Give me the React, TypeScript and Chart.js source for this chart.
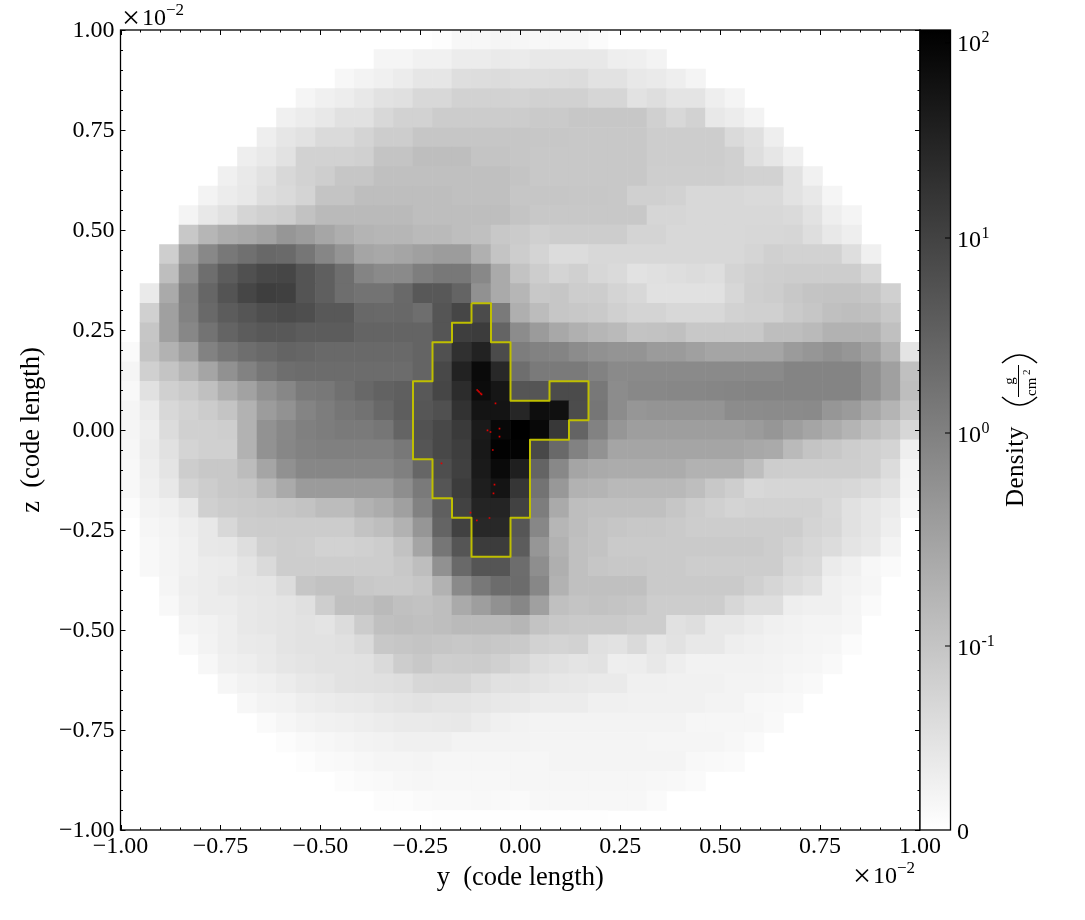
import React, { useEffect, useRef } from "react";
import { Chart, registerables } from "chart.js";

Chart.register(...registerables);

// Grid: 41 x 41 cells, y and z in units of 1e-2 code length.
const gridSize = 41;
// Column of the first filled cell of every row, top row first.
const firstCols = [16, 13, 11, 9, 8, 7, 6, 5, 4, 3, 3, 2, 2, 1, 1, 1, 0, 0, 0, 0, 0, 0, 0, 0, 0, 1, 1, 1, 2, 2, 3, 3, 4, 5, 6, 7, 8, 9, 11, 13, 16];
// Colour-bar level of each cell, 255 = bottom of the colour bar (lowest density), 0 = top.
const shadeRows: number[][] = [
  [253, 247, 247, 245, 246, 247, 247, 247, 251],
  [245, 245, 241, 241, 236, 236, 234, 235, 232, 232, 232, 232, 238, 239, 243],
  [247, 243, 240, 236, 230, 230, 222, 221, 220, 222, 222, 221, 220, 226, 226, 232, 234, 238, 244],
  [245, 240, 237, 232, 226, 224, 216, 216, 210, 210, 210, 211, 209, 209, 209, 214, 214, 226, 222, 228, 228, 238, 244],
  [240, 236, 232, 225, 225, 216, 210, 210, 204, 204, 204, 204, 204, 202, 202, 199, 199, 199, 199, 208, 216, 210, 232, 236, 243],
  [238, 230, 226, 218, 218, 212, 205, 205, 198, 198, 198, 198, 198, 198, 199, 199, 200, 200, 200, 200, 205, 205, 205, 205, 218, 224, 238],
  [238, 233, 226, 210, 210, 210, 208, 196, 196, 190, 190, 190, 196, 196, 198, 200, 200, 200, 200, 200, 200, 205, 205, 205, 205, 208, 222, 230, 240],
  [240, 233, 226, 216, 210, 206, 198, 198, 192, 192, 192, 192, 192, 192, 192, 196, 200, 200, 200, 200, 200, 200, 206, 206, 206, 206, 208, 210, 210, 226, 241],
  [243, 236, 232, 222, 218, 212, 196, 196, 190, 190, 190, 190, 190, 192, 192, 192, 198, 198, 198, 199, 199, 200, 208, 208, 210, 216, 216, 216, 218, 218, 226, 232, 245],
  [244, 232, 225, 213, 208, 205, 194, 186, 186, 186, 186, 186, 190, 190, 190, 190, 190, 196, 200, 200, 200, 200, 200, 200, 214, 214, 216, 216, 216, 216, 216, 218, 226, 238, 244],
  [200, 182, 172, 168, 162, 150, 156, 166, 174, 180, 182, 182, 186, 186, 190, 192, 200, 203, 208, 205, 205, 205, 205, 212, 212, 216, 216, 216, 216, 215, 215, 214, 222, 232, 238],
  [206, 160, 136, 120, 112, 104, 106, 118, 134, 148, 165, 168, 165, 160, 156, 156, 176, 196, 205, 212, 220, 220, 216, 216, 216, 216, 216, 216, 216, 216, 213, 208, 210, 210, 210, 222, 240],
  [190, 142, 110, 92, 80, 72, 70, 84, 95, 110, 132, 138, 138, 126, 120, 120, 136, 170, 195, 205, 212, 208, 215, 218, 226, 224, 222, 220, 222, 212, 208, 206, 205, 205, 205, 205, 215],
  [234, 170, 128, 102, 84, 70, 62, 64, 84, 95, 110, 115, 115, 105, 88, 88, 100, 145, 170, 182, 200, 198, 205, 205, 212, 216, 225, 225, 225, 225, 215, 207, 205, 200, 196, 195, 195, 198, 208],
  [208, 160, 130, 105, 92, 85, 78, 75, 78, 88, 88, 104, 105, 104, 110, 85, 70, 75, 122, 175, 188, 198, 200, 202, 208, 212, 212, 216, 216, 216, 210, 208, 208, 202, 198, 192, 190, 192, 200],
  [198, 160, 135, 115, 100, 92, 88, 88, 92, 92, 92, 100, 100, 100, 100, 85, 62, 60, 100, 140, 155, 168, 176, 182, 186, 195, 194, 192, 200, 200, 200, 200, 190, 190, 186, 178, 178, 178, 192],
  [250, 196, 178, 160, 130, 118, 110, 105, 100, 102, 105, 105, 105, 105, 105, 100, 80, 48, 34, 75, 125, 130, 132, 140, 145, 148, 148, 155, 155, 160, 165, 165, 165, 165, 155, 150, 145, 150, 160, 178, 228],
  [245, 208, 196, 182, 165, 145, 130, 118, 110, 108, 108, 108, 108, 108, 108, 100, 72, 34, 10, 40, 110, 122, 122, 122, 130, 138, 138, 138, 138, 138, 138, 138, 138, 138, 132, 132, 132, 132, 145, 160, 192],
  [248, 225, 208, 202, 192, 175, 162, 145, 135, 122, 120, 112, 104, 98, 95, 88, 70, 44, 12, 22, 85, 85, 75, 75, 120, 140, 136, 136, 135, 135, 134, 133, 132, 132, 132, 132, 132, 132, 145, 160, 190],
  [245, 235, 216, 210, 204, 196, 178, 156, 146, 132, 125, 118, 114, 104, 94, 86, 80, 50, 20, 20, 38, 14, 16, 76, 118, 140, 150, 148, 148, 148, 148, 140, 140, 139, 139, 138, 150, 155, 168, 180, 198],
  [245, 238, 220, 208, 208, 206, 178, 146, 136, 128, 125, 122, 122, 118, 100, 82, 72, 58, 26, 8, 0, 8, 56, 100, 130, 150, 158, 158, 158, 158, 158, 158, 155, 150, 158, 165, 172, 180, 190, 198, 215],
  [247, 236, 225, 212, 208, 208, 178, 146, 135, 130, 128, 128, 128, 128, 120, 85, 72, 62, 24, 2, 3, 72, 105, 130, 146, 165, 165, 165, 165, 165, 165, 165, 168, 170, 186, 196, 200, 205, 208, 212, 238],
  [248, 238, 228, 205, 200, 200, 188, 165, 145, 135, 135, 135, 135, 135, 128, 102, 78, 64, 26, 10, 31, 100, 136, 165, 170, 172, 172, 172, 172, 178, 178, 178, 190, 205, 206, 206, 206, 206, 208, 220, 244],
  [248, 240, 232, 212, 205, 200, 198, 185, 170, 155, 155, 155, 155, 155, 142, 122, 85, 60, 30, 20, 54, 115, 152, 178, 180, 185, 185, 185, 185, 190, 200, 206, 216, 214, 214, 214, 214, 216, 220, 226, 245],
  [252, 243, 240, 232, 208, 204, 202, 200, 198, 195, 188, 188, 178, 172, 160, 130, 95, 66, 36, 36, 66, 125, 170, 190, 192, 192, 192, 192, 198, 204, 208, 212, 210, 210, 210, 210, 216, 225, 230, 235, 248],
  [246, 243, 238, 232, 216, 205, 204, 204, 204, 204, 204, 195, 190, 178, 150, 100, 65, 40, 40, 86, 135, 182, 190, 195, 198, 200, 200, 202, 205, 205, 205, 205, 205, 205, 212, 215, 225, 230, 238],
  [248, 244, 240, 232, 231, 222, 208, 205, 206, 210, 210, 208, 205, 194, 165, 118, 85, 60, 60, 92, 150, 178, 192, 195, 202, 202, 202, 202, 202, 202, 202, 202, 205, 210, 215, 220, 228, 232, 243],
  [248, 244, 240, 236, 235, 228, 218, 205, 205, 205, 205, 205, 205, 200, 190, 145, 105, 85, 85, 109, 142, 175, 192, 198, 200, 200, 202, 202, 205, 205, 205, 205, 205, 215, 218, 235, 240, 247, 250],
  [245, 238, 236, 232, 230, 229, 220, 198, 194, 194, 200, 202, 202, 198, 178, 138, 120, 108, 108, 135, 178, 192, 192, 192, 192, 202, 202, 202, 202, 202, 208, 214, 220, 225, 240, 243, 246],
  [248, 240, 236, 236, 232, 230, 228, 224, 206, 192, 192, 186, 192, 194, 190, 170, 158, 145, 135, 160, 192, 196, 194, 196, 198, 205, 205, 205, 205, 215, 222, 222, 238, 240, 240, 245, 250],
  [244, 242, 238, 232, 230, 228, 226, 228, 220, 204, 192, 190, 192, 190, 186, 186, 186, 182, 195, 200, 202, 202, 202, 205, 205, 225, 222, 232, 232, 236, 240, 242, 244, 244, 246],
  [249, 243, 238, 234, 233, 228, 226, 226, 224, 218, 200, 198, 196, 198, 200, 198, 200, 202, 210, 212, 210, 224, 226, 218, 230, 226, 232, 232, 238, 240, 242, 243, 245, 246, 251],
  [247, 240, 238, 234, 230, 228, 226, 226, 225, 218, 205, 200, 206, 205, 204, 208, 214, 222, 225, 228, 226, 238, 237, 232, 238, 242, 242, 242, 242, 243, 245, 246, 249],
  [246, 242, 240, 236, 232, 230, 226, 225, 224, 222, 215, 214, 214, 220, 225, 225, 228, 231, 232, 234, 234, 240, 240, 241, 241, 241, 243, 243, 244, 247, 249],
  [247, 243, 242, 238, 236, 234, 233, 230, 228, 226, 228, 228, 230, 232, 233, 236, 236, 236, 240, 240, 241, 241, 241, 241, 243, 243, 247, 248, 249],
  [250, 246, 243, 241, 240, 238, 236, 234, 234, 233, 232, 236, 240, 242, 243, 243, 243, 243, 243, 243, 243, 243, 246, 246, 246, 246, 249],
  [252, 249, 247, 245, 243, 242, 240, 240, 240, 243, 243, 243, 243, 244, 244, 244, 244, 244, 244, 245, 245, 245, 245, 247, 250],
  [253, 250, 249, 247, 245, 245, 244, 246, 246, 246, 246, 246, 246, 244, 244, 244, 244, 244, 244, 244, 248, 249, 250],
  [252, 250, 249, 247, 246, 247, 247, 247, 247, 246, 246, 246, 246, 246, 246, 246, 247, 248, 250],
  [252, 252, 250, 249, 249, 248, 249, 250, 247, 247, 247, 247, 247, 247, 250],
  [254, 254, 254, 254, 254, 254, 254, 254, 254],
];

// Contour vertices, on the edges of the grid (column edge, row edge).
const contourCols = [18, 19, 19, 20, 20, 22, 22, 24, 24, 23, 23, 21, 21, 20, 20, 18, 18, 17, 17, 16, 16, 15, 15, 16, 16, 17, 17, 18, 18];
const contourRows = [14, 14, 16, 16, 19, 19, 18, 18, 20, 20, 21, 21, 25, 25, 27, 27, 25, 25, 24, 24, 22, 22, 18, 18, 16, 16, 15, 15, 14];

// Particles.
const particleY = [-0.1077, -0.1052, -0.1027, -0.0994, -0.0969, -0.0619, -0.0819, -0.0744, -0.0519, -0.0519, -0.0687, -0.197, -0.0644, -0.0669, -0.1245, -0.0769, -0.1087];
const particleZ = [0.1, 0.0975, 0.095, 0.0918, 0.0893, 0.0668, -0.0008, -0.005, 0.0033, -0.0168, -0.05, -0.0833, -0.1368, -0.1583, -0.2068, -0.22, -0.2258];

// Colour bar: position of labelled densities on the 0..1 bar.
const barTickLevels = [0, 0.23, 0.49625, 0.74, 0.984];
const barTickBases = ["0", "10", "10", "10", "10"];
const barTickPowers = ["", "-1", "0", "1", "2"];

const SERIF = '"Liberation Serif", serif';
const INK = "#000";

const edgeX = (k: number) => -1 + (2 * k) / gridSize;
const edgeZ = (r: number) => 1 - (2 * r) / gridSize;

const cells = shadeRows.flatMap((row, r) =>
  row.map((v, i) => ({
    x: edgeX(firstCols[r] + i + 0.5),
    y: edgeZ(r + 0.5),
    v,
  }))
);
const contour = contourCols.map((k, i) => ({ x: edgeX(k), y: edgeZ(contourRows[i]) }));
const particles = particleY.map((x, i) => ({ x, y: particleZ[i] }));

const text = (ctx: CanvasRenderingContext2D, s: string, x: number, y: number, size: number, align: CanvasTextAlign = "left") => {
  ctx.font = `${size}px ${SERIF}`;
  ctx.textAlign = align;
  ctx.textBaseline = "alphabetic";
  ctx.fillStyle = INK;
  ctx.fillText(s, x, y);
};

const frame = {
  id: "frame",
  afterDatasetsDraw(chart: any) {
    const { ctx, chartArea: a, scales } = chart;
    ctx.save();
    ctx.strokeStyle = INK;
    ctx.lineWidth = 1;
    const seg = (x0: number, y0: number, x1: number, y1: number) => {
      ctx.beginPath();
      ctx.moveTo(x0, y0);
      ctx.lineTo(x1, y1);
      ctx.stroke();
    };
    for (let i = -20; i <= 20; i++) {
      const v = i * 0.05;
      const len = i % 5 === 0 ? 5 : 2.5;
      const px = Math.round(scales.x.getPixelForValue(v)) + 0.5;
      const py = Math.round(scales.y.getPixelForValue(v)) + 0.5;
      seg(px, a.top, px, a.top + len);
      seg(px, a.bottom, px, a.bottom - len);
      seg(a.left, py, a.left + len, py);
      seg(a.right, py, a.right - len, py);
    }
    ctx.lineWidth = 1.3;
    ctx.strokeRect(a.left, a.top, a.right - a.left, a.bottom - a.top);

    text(ctx, "×", 122, 28, 32);
    text(ctx, "10", 142, 25, 24);
    text(ctx, "−2", 166, 15, 17);
    text(ctx, "×", 853, 886, 32);
    text(ctx, "10", 873, 883, 24);
    text(ctx, "−2", 897, 873, 17);
    ctx.restore();
  },
};

const barFrame = {
  id: "barFrame",
  afterDatasetsDraw(chart: any) {
    const { ctx, chartArea: a, scales } = chart;
    ctx.save();
    ctx.strokeStyle = INK;
    ctx.lineWidth = 1.3;
    ctx.strokeRect(a.left, a.top, a.right - a.left, a.bottom - a.top);
    ctx.lineWidth = 1;
    barTickLevels.forEach((lv, i) => {
      const py = scales.y.getPixelForValue(lv);
      if (i > 0) {
        ctx.beginPath();
        ctx.moveTo(a.right - 5.5, py);
        ctx.lineTo(a.right, py);
        ctx.stroke();
      }
      const base = py + 8.5;
      text(ctx, barTickBases[i], 957, base, 24);
      if (barTickPowers[i]) text(ctx, barTickPowers[i], 981.5, base - 9, 16);
    });

    const rot = (s: string, bx: number, sy: number, size: number, align: CanvasTextAlign = "left", spacing = "0px") => {
      ctx.save();
      ctx.translate(bx, sy);
      ctx.rotate(-Math.PI / 2);
      (ctx as any).letterSpacing = spacing;
      text(ctx, s, 0, 0, size, align);
      ctx.restore();
    };
    rot("Density", 1022.7, 507, 25, "left", "0.4px");
    rot("g", 1014, 381, 15, "center");
    rot("cm", 1036, 396, 15);
    rot("2", 1030, 375, 11);
    ctx.lineWidth = 1;
    ctx.beginPath();
    ctx.moveTo(1018.5, 365);
    ctx.lineTo(1018.5, 397);
    ctx.stroke();
    ctx.lineWidth = 1.5;
    ctx.beginPath();
    ctx.moveTo(1002, 397);
    ctx.quadraticCurveTo(1019.5, 413, 1037, 397);
    ctx.moveTo(1002, 363);
    ctx.quadraticCurveTo(1019.5, 347, 1037, 363);
    ctx.stroke();
    ctx.restore();
  },
};

const tickFont = { family: SERIF, size: 24 };
const axisLabel = (v: number | string) => Number(v).toFixed(2).replace("-", "−");

export default function App() {
  const mainRef = useRef<HTMLCanvasElement | null>(null);
  const barRef = useRef<HTMLCanvasElement | null>(null);

  useEffect(() => {
    const main = new Chart(mainRef.current!, {
      type: "scatter",
      data: {
        datasets: [
          {
            label: "Density",
            order: 3,
            data: cells,
            pointStyle: "rect",
            borderWidth: 0,
            pointBorderWidth: 0,
            pointRadius: (c: any) => {
              const xs = c.chart.scales.x;
              const half = Math.abs(xs.getPixelForValue(1 / gridSize) - xs.getPixelForValue(0));
              return (half + 0.3) * Math.SQRT2;
            },
            pointBackgroundColor: (c: any) => {
              const v = c.raw?.v ?? 255;
              return `rgb(${v},${v},${v})`;
            },
          },
          {
            label: "Contour",
            order: 2,
            data: contour,
            showLine: true,
            borderColor: "#bfbf00",
            borderWidth: 2,
            borderJoinStyle: "round",
            tension: 0,
            pointRadius: 0,
          },
          {
            label: "Particles",
            order: 1,
            data: particles,
            pointStyle: "rect",
            pointRadius: 1.2,
            pointBorderWidth: 0,
            pointBackgroundColor: "#e00000",
          },
        ],
      } as any,
      options: {
        responsive: false,
        animation: false,
        devicePixelRatio: 1,
        events: [],
        layout: { padding: { top: 30, right: 165, left: 0, bottom: 0 } },
        plugins: { legend: { display: false }, tooltip: { enabled: false } },
        scales: {
          x: {
            type: "linear",
            min: -1,
            max: 1,
            grid: { display: false, drawTicks: false },
            border: { display: false },
            ticks: { stepSize: 0.25, font: tickFont, color: INK, padding: 2, maxRotation: 0, autoSkip: false, callback: axisLabel },
            title: { display: true, text: "y  (code length)", font: { family: SERIF, size: 26.5 }, color: INK, padding: { top: 0, bottom: 26 } },
            afterFit: (s: any) => { s.height = 90; },
          },
          y: {
            type: "linear",
            min: -1,
            max: 1,
            grid: { display: false, drawTicks: false },
            border: { display: false },
            ticks: { stepSize: 0.25, font: tickFont, color: INK, padding: 6, labelOffset: 1, autoSkip: false, callback: axisLabel },
            title: { display: true, text: "z  (code length)", font: { family: SERIF, size: 26.5 }, color: INK, padding: { top: 16, bottom: 0 } },
            afterFit: (s: any) => { s.width = 120.5; },
          },
        },
      } as any,
      plugins: [frame],
    });

    const bar = new Chart(barRef.current!, {
      type: "bar",
      data: {
        labels: ["Density"],
        datasets: [
          {
            label: "Colour bar",
            data: [[0, 1]],
            barPercentage: 1,
            categoryPercentage: 1,
            borderWidth: 0,
            backgroundColor: (c: any) => {
              const a = c.chart.chartArea;
              if (!a) return "#888";
              const g = c.chart.ctx.createLinearGradient(0, a.bottom, 0, a.top);
              g.addColorStop(0, "rgb(255,255,255)");
              g.addColorStop(1, "rgb(0,0,0)");
              return g;
            },
          },
        ],
      } as any,
      options: {
        responsive: false,
        animation: false,
        devicePixelRatio: 1,
        events: [],
        layout: { padding: { top: 30, right: 134.5, left: 920, bottom: 90 } },
        plugins: { legend: { display: false }, tooltip: { enabled: false } },
        scales: {
          x: { display: false },
          y: { display: false, type: "linear", min: 0, max: 1 },
        },
      } as any,
      plugins: [barFrame],
    });

    return () => {
      main.destroy();
      bar.destroy();
    };
  }, []);

  const layer: React.CSSProperties = { position: "absolute", left: 0, top: 0, display: "block" };
  return (
    <div style={{ position: "absolute", left: 0, top: 0, width: 1085, height: 920, background: "#fff" }}>
      <canvas ref={mainRef} width={1085} height={920} style={layer} />
      <canvas ref={barRef} width={1085} height={920} style={layer} />
    </div>
  );
}
